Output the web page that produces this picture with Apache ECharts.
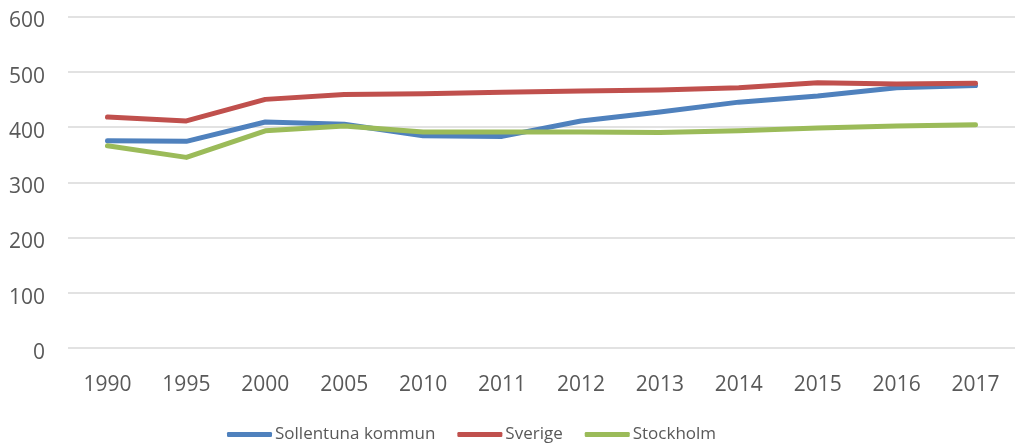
<!DOCTYPE html>
<html>
<head>
    <meta charset="utf-8">
    <title>ECharts</title>
    <script src="https://cdn.jsdelivr.net/npm/echarts@6/dist/echarts.min.js"></script>
</head>
<body style="margin:0">
    <div id="main" style="width: 1015px;height:444px;"></div>
    <script type="text/javascript">
        var years = ['1990', '1995', '2000', '2005', '2010', '2011', '2012', '2013', '2014', '2015', '2016', '2017'];
        var sollentuna = [375, 374, 409, 405, 384, 383, 411, 427, 445, 456, 471, 475];
        var sverige = [418, 411, 450, 459, 460, 463, 465, 467, 471, 480, 478, 479];
        var stockholm = [366, 345, 393, 402, 391, 391, 391, 390, 393, 398, 402, 404];

        var txt = '#595959';
        var font = 'Open Sans';

        function line(name, data, color) {
            return {
                name: name,
                type: 'line',
                data: data,
                showSymbol: false,
                symbol: 'none',
                color: color,
                lineStyle: { width: 5, color: color, cap: 'round', join: 'round' }
            };
        }

        var myChart = echarts.init(document.getElementById('main'));
        var option = {
            animation: false,
            grid: { left: 68, right: -10, top: 16.5, bottom: 96 },
            legend: {
                left: 222,
                top: 421,
                icon: 'roundRect',
                itemWidth: 45,
                itemHeight: 5,
                itemGap: 22,
                textStyle: { color: txt, fontFamily: font, fontSize: 17, padding: [0, 0, 0, -2] },
                data: ['Sollentuna kommun', 'Sverige', 'Stockholm']
            },
            xAxis: {
                type: 'category',
                data: years,
                boundaryGap: true,
                axisLine: { show: false },
                axisTick: { show: false },
                axisLabel: { color: txt, fontFamily: font, fontSize: 21, margin: 27 }
            },
            yAxis: {
                type: 'value',
                min: 0,
                max: 600,
                interval: 100,
                axisLine: { show: false },
                axisTick: { show: false },
                axisLabel: {
                    color: txt, fontFamily: font, fontSize: 21, margin: 23,
                    verticalAlign: 'top', lineHeight: 10
                },
                splitLine: { lineStyle: { color: '#d9d9d9', width: 1.5 } }
            },
            series: [
                line('Sollentuna kommun', sollentuna, '#4F81BD'),
                line('Sverige', sverige, '#C0504D'),
                line('Stockholm', stockholm, '#9BBB59')
            ]
        };
        myChart.setOption(option);
    </script>
</body>
</html>
